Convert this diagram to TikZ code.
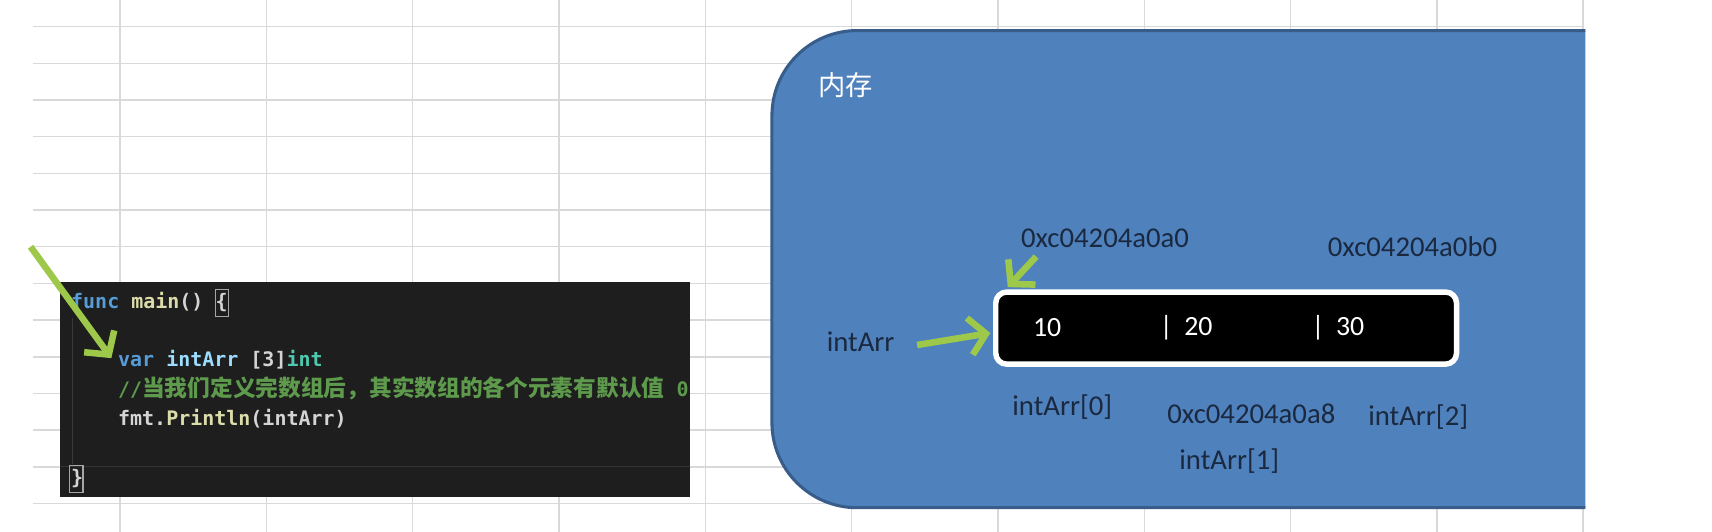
\documentclass[tikz,border=0pt]{standalone}
\usepackage{fontspec}
\setmainfont{Carlito}
\newfontfamily\monof{DejaVu Sans Mono}
\newfontfamily\cjkf{Noto Sans CJK SC}
\usetikzlibrary{arrows.meta}
\definecolor{memblue}{HTML}{4F81BD}
\definecolor{memline}{HTML}{385D8A}
\definecolor{labelc}{HTML}{1A2940}
\definecolor{garrowc}{HTML}{9DC84A}
\definecolor{gridc}{HTML}{D9D9D9}
\definecolor{codebg}{HTML}{1E1E1E}
\definecolor{kwc}{HTML}{569CD6}
\definecolor{fnc}{HTML}{DCDCAA}
\definecolor{varc}{HTML}{9CDCFE}
\definecolor{typec}{HTML}{4EC9B0}
\definecolor{cmtc}{HTML}{5E9A4C}
\definecolor{plainc}{HTML}{D4D4D4}
\tikzset{
  gridl/.style={draw=gridc, line width=1.3pt},
  garrow/.style={draw=garrowc, line width=6pt, -{Straight Barb[length=15pt,width=34pt]}},
  codetxt/.style={anchor=base west, inner sep=0pt, font=\monof\bfseries\fontsize{18.3}{22}\selectfont, text=plainc},
  lbl/.style={anchor=west, inner sep=0pt, font=\fontsize{26.3}{30}\selectfont, text=labelc},
  celltxt/.style={anchor=west, inner sep=0pt, font=\fontsize{25.5}{30}\selectfont, text=white},
  arrbox/.style={draw=white, line width=5pt, fill=black, rounded corners=10pt, minimum width=422pt, minimum height=66pt, inner sep=0pt},
  brk/.style={draw=gray!70, line width=1pt}
}
\begin{document}
\begin{tikzpicture}[x=1pt,y=-1pt]
\useasboundingbox (0,0) rectangle (1568,487);
\fill[white] (0,0) rectangle (1568,487);
% spreadsheet grid
\foreach \k in {0,...,13} \draw[gridl] (30,{24.4+33.6*\k}) -- (1450,{24.4+33.6*\k});
\foreach \k in {0,...,10} \draw[gridl] ({110+134*\k},0) -- ({110+134*\k},487);
% memory box
\begin{scope}
  \clip (0,0) rectangle (1452,487);
  \draw[draw=memline, line width=2.8pt, fill=memblue, rounded corners=78pt] (1500,28) -- (707,28) -- (707,465) -- (1500,465);
\end{scope}
\node[anchor=west, inner sep=0pt, text=white, font=\cjkf\fontsize{25}{30}\selectfont] (mem) at (749,78) {内存};
% array box
\node[arrbox] (arr) at (1123,300.5) {};
\node[celltxt] (v0) at (946,300) {10};
\node[celltxt] (v1) at (1062,300) {|\hspace{5pt} 20};
\node[celltxt] (v2) at (1201,300) {|\hspace{5pt} 30};
% labels
\node[lbl] (name) at (757,313) {intArr};
\node[lbl] (ad0) at (935,218) {0xc04204a0a0};
\node[lbl] (ad2) at (1216,226) {0xc04204a0b0};
\node[lbl] (ix0) at (927,373) {intArr[0]};
\node[lbl] (ad1) at (1069,379) {0xc04204a0a8};
\node[lbl] (ix2) at (1253,382) {intArr[2]};
\node[lbl] (ix1) at (1080,422) {intArr[1]};
% code box
\fill[codebg] (55,258) rectangle (632,455);
\begin{scope}
  \clip (55,258) rectangle (632,455);
  \draw[draw=black!80!white, line width=1pt] (55,427) -- (632,427);
  \draw[draw=gray!45!black, line width=1pt] (66,291) -- (66,425);
  \draw[brk] (197,265) rectangle (209,290);
  \draw[brk] (64,426) rectangle (76,451);
  \node[codetxt] (l1) at (65,283) {\textcolor{kwc}{func} \textcolor{fnc}{main}() \{};
  \node[codetxt] (l2) at (108,336) {\textcolor{kwc}{var} \textcolor{varc}{intArr} [3]\textcolor{typec}{int}};
  \node[codetxt, text=cmtc] (l3) at (108,363) {//{\cjkf\fontsize{20.8}{22}\selectfont 当我们定义完数组后，其实数组的各个元素有默认值} 0};
  \node[codetxt] (l4) at (108,390) {fmt.\textcolor{fnc}{Println}(intArr)};
  \node[codetxt] (l5) at (65,444) {\}};
\end{scope}
% arrows
\coordinate (c1s) at (28,226);
\coordinate (c1e) at (102,328);
\draw[garrow] (c1s) -- (c1e);
\coordinate (a2s) at (840,316);
\coordinate (a2e) at (907,305);
\draw[garrow] (a2s) -- (a2e);
\coordinate (a3s) at (949,235);
\coordinate (a3e) at (923,263);
\draw[garrow] (a3s) -- (a3e);
\end{tikzpicture}
\end{document}
